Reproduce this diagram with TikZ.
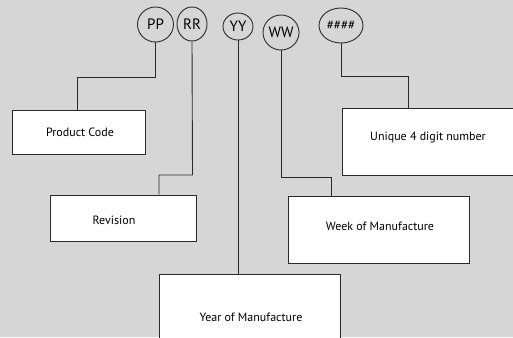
\documentclass[tikz,border=0pt]{standalone}
\usepackage{fontspec}
\setmainfont{PT Sans}
\usetikzlibrary{shapes.geometric}
\definecolor{bg}{HTML}{D6D6D6}
\definecolor{edge}{HTML}{2A2A2A}
\begin{document}
\begin{tikzpicture}[x=1pt,y=-1pt,
  tag/.style={draw=edge,line width=0.9pt,ellipse,inner sep=0pt,font=\fontsize{15}{15}\selectfont},
  lbl/.style={draw=edge,line width=0.9pt,fill=white,inner sep=0pt},
  txt/.style={font=\fontsize{12}{14}\selectfont,inner sep=0pt},
  wire/.style={draw=edge,line width=0.9pt}]
\fill[bg] (0,0) rectangle (513,337);
\useasboundingbox (0,0) rectangle (513,337);
% circles
\node[tag,minimum width=36,minimum height=35] (pp) at (155.5,24.5) {PP};
\node[tag,minimum width=30,minimum height=34] (rr) at (192,24) {RR};
\node[tag,minimum width=30,minimum height=27] (yy) at (238,26.5) {YY};
\node[tag,minimum width=36,minimum height=35] (ww) at (281,32.5) {WW};
\node[tag,minimum width=44,minimum height=35,font=\fontsize{13}{13}\selectfont] (hh) at (341,25.5) {\#\#\#\#};
% boxes
\node[lbl,minimum width=133,minimum height=44] (pc) at (78.5,132) {};
\node[txt] at (80,132) {Product Code};
\node[lbl,minimum width=146,minimum height=46] (rev) at (123,218) {};
\node[txt] at (114,220) {Revision};
\node[lbl,minimum width=181,minimum height=90] (yom) at (249.5,319) {};
\node[txt] at (251,317) {Year of Manufacture};
\node[lbl,minimum width=181,minimum height=67] (wom) at (378.5,229.5) {};
\node[txt] at (380,226) {Week of Manufacture};
\node[lbl,minimum width=180,minimum height=67] (uq) at (432,141.5) {};
\node[txt] at (428,138) {Unique 4 digit number};
% connectors
\coordinate (c1) at (155.5,77.5);
\coordinate (c2) at (77,77.5);
\draw[wire] (pp.south) -- (c1) -- (c2) -- (c2 |- pc.north);
\coordinate (r1) at (192.5,175);
\coordinate (r2) at (159,175);
\draw[wire] (rr.south) -- (r1) -- (r2) -- (r2 |- rev.north);
\draw[wire] (yy.south) -- (yy.south |- yom.north);
\coordinate (w1) at (281,177);
\coordinate (w2) at (331,177);
\draw[wire] (ww.south) -- (w1) -- (w2) -- (w2 |- wom.north);
\coordinate (h1) at (341,76);
\coordinate (h2) at (408,76);
\draw[wire] (hh.south) -- (h1) -- (h2) -- (h2 |- uq.north);
\end{tikzpicture}
\end{document}
